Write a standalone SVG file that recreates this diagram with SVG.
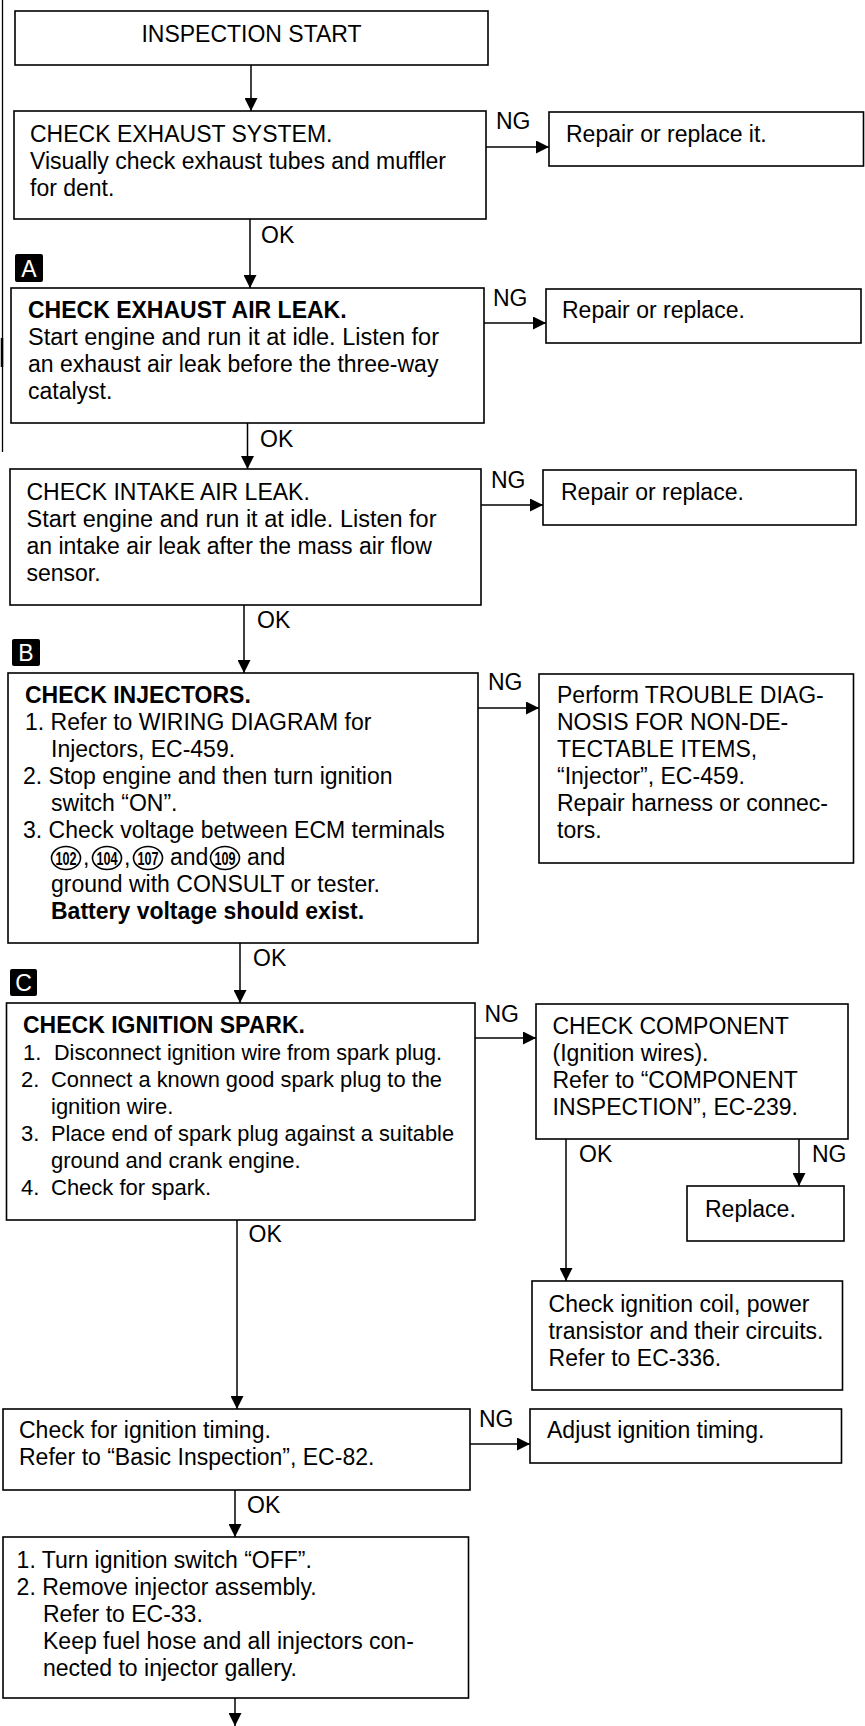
<svg xmlns="http://www.w3.org/2000/svg" width="865" height="1726" viewBox="0 0 865 1726">
<defs>
<style>
.box{fill:#fff;stroke:#000;stroke-width:1.6}
.t{font-family:"Liberation Sans",Arial,Helvetica,sans-serif;font-size:23px;fill:#000}
.s{font-size:22px}
.b{font-weight:bold}
.conn{stroke:#000;stroke-width:1.5;fill:none}
.badge{fill:#000}
.bt{font-family:"Liberation Sans",Arial,Helvetica,sans-serif;font-size:23px;fill:#fff;text-anchor:middle}
.circ{fill:none;stroke:#000;stroke-width:1.6}
.cn{font-family:"Liberation Sans",Arial,Helvetica,sans-serif;font-size:18px;font-weight:bold;fill:#000;text-anchor:middle}
</style>
<marker id="ah" markerUnits="userSpaceOnUse" markerWidth="13" markerHeight="13" viewBox="0 0 13 13" refX="13" refY="6.5" orient="auto">
<path d="M0,0 L13,6.5 L0,13 z" fill="#000"/>
</marker>
</defs>
<rect width="865" height="1726" fill="#fff"/>
<g id="scan-edge">
<line x1="2.5" y1="0" x2="2.5" y2="452" stroke="#000" stroke-width="1.3"/>
<line x1="2" y1="338" x2="2" y2="367" stroke="#000" stroke-width="2.5"/>
</g>
<g id="connectors">
<line class="conn" x1="251" y1="65" x2="251" y2="111" marker-end="url(#ah)"/>
<line class="conn" x1="486" y1="147" x2="549" y2="147" marker-end="url(#ah)"/>
<line class="conn" x1="250" y1="219" x2="250" y2="288" marker-end="url(#ah)"/>
<line class="conn" x1="484" y1="323" x2="546" y2="323" marker-end="url(#ah)"/>
<line class="conn" x1="247.5" y1="423" x2="247.5" y2="469" marker-end="url(#ah)"/>
<line class="conn" x1="481" y1="505" x2="543" y2="505" marker-end="url(#ah)"/>
<line class="conn" x1="244" y1="605" x2="244" y2="673" marker-end="url(#ah)"/>
<line class="conn" x1="478" y1="708" x2="539" y2="708" marker-end="url(#ah)"/>
<line class="conn" x1="240" y1="943" x2="240" y2="1003" marker-end="url(#ah)"/>
<line class="conn" x1="475" y1="1038" x2="536" y2="1038" marker-end="url(#ah)"/>
<line class="conn" x1="566" y1="1139" x2="566" y2="1281" marker-end="url(#ah)"/>
<line class="conn" x1="799" y1="1139" x2="799" y2="1186" marker-end="url(#ah)"/>
<line class="conn" x1="237" y1="1220" x2="237" y2="1409" marker-end="url(#ah)"/>
<line class="conn" x1="470" y1="1444" x2="530" y2="1444" marker-end="url(#ah)"/>
<line class="conn" x1="235" y1="1490" x2="235" y2="1537" marker-end="url(#ah)"/>
<line class="conn" x1="235" y1="1698" x2="235" y2="1726" marker-end="url(#ah)"/>
<text class="t" x="496" y="129">NG</text>
<text class="t" x="261" y="243">OK</text>
<text class="t" x="493" y="306">NG</text>
<text class="t" x="260" y="447">OK</text>
<text class="t" x="491" y="488">NG</text>
<text class="t" x="257" y="628">OK</text>
<text class="t" x="488" y="690">NG</text>
<text class="t" x="253" y="966">OK</text>
<text class="t" x="484.5" y="1022">NG</text>
<text class="t" x="579" y="1162">OK</text>
<text class="t" x="812" y="1162">NG</text>
<text class="t" x="248.6" y="1242">OK</text>
<text class="t" x="479" y="1427">NG</text>
<text class="t" x="247" y="1513">OK</text>
</g>
<g id="badge-a">
<rect class="badge" x="15" y="254" width="28" height="28" rx="2"/>
<text class="bt" x="29" y="277">A</text>
</g>
<g id="badge-b">
<rect class="badge" x="12" y="639" width="28" height="27" rx="2"/>
<text class="bt" x="26" y="661">B</text>
</g>
<g id="badge-c">
<rect class="badge" x="10" y="969" width="27" height="27" rx="2"/>
<text class="bt" x="23.5" y="991">C</text>
</g>
<g id="inspection-start">
<rect class="box" x="15" y="11" width="473" height="54"/>
<text class="t" x="251.5" y="42" text-anchor="middle">INSPECTION START</text>
</g>
<g id="check-exhaust-system">
<rect class="box" x="14" y="111" width="472" height="108"/>
<text class="t"><tspan x="30" y="142">CHECK EXHAUST SYSTEM.</tspan><tspan x="30" y="169">Visually check exhaust tubes and muffler</tspan><tspan x="30" y="196">for dent.</tspan></text>
</g>
<g id="repair-1">
<rect class="box" x="549" y="112" width="314.5" height="54"/>
<text class="t" x="566" y="142">Repair or replace it.</text>
</g>
<g id="check-exhaust-air-leak">
<rect class="box" x="11" y="288" width="473" height="135"/>
<text class="t b" x="28" y="318">CHECK EXHAUST AIR LEAK.</text>
<text class="t" x="28" y="345" textLength="411" lengthAdjust="spacingAndGlyphs">Start engine and run it at idle. Listen for</text>
<text class="t"><tspan x="28" y="372">an exhaust air leak before the three-way</tspan><tspan x="28" y="399">catalyst.</tspan></text>
</g>
<g id="repair-2">
<rect class="box" x="546" y="289" width="315" height="54"/>
<text class="t" x="562" y="318">Repair or replace.</text>
</g>
<g id="check-intake-air-leak">
<rect class="box" x="10" y="469" width="471" height="136"/>
<text class="t" x="26.5" y="500">CHECK INTAKE AIR LEAK.</text>
<text class="t" x="26.5" y="527" textLength="410" lengthAdjust="spacingAndGlyphs">Start engine and run it at idle. Listen for</text>
<text class="t"><tspan x="26.5" y="554">an intake air leak after the mass air flow</tspan><tspan x="26.5" y="581">sensor.</tspan></text>
</g>
<g id="repair-3">
<rect class="box" x="543" y="470" width="313" height="55"/>
<text class="t" x="561" y="500">Repair or replace.</text>
</g>
<g id="check-injectors">
<rect class="box" x="8" y="673" width="470" height="270"/>
<text class="t"><tspan x="25" y="703" font-weight="bold">CHECK INJECTORS.</tspan><tspan x="25" y="730">1. Refer to WIRING DIAGRAM for</tspan><tspan x="51" y="757">Injectors, EC-459.</tspan><tspan x="23" y="784">2. Stop engine and then turn ignition</tspan><tspan x="51" y="811">switch “ON”.</tspan><tspan x="23" y="838">3. Check voltage between ECM terminals</tspan><tspan x="51" y="892">ground with CONSULT or tester.</tspan><tspan x="51" y="919" font-weight="bold">Battery voltage should exist.</tspan></text>
<ellipse class="circ" cx="66" cy="858" rx="14.5" ry="11.5"/>
<text class="cn" x="66" y="864.5" textLength="21" lengthAdjust="spacingAndGlyphs">102</text>
<text class="t" x="83" y="865">,</text>
<ellipse class="circ" cx="107" cy="858" rx="14.5" ry="11.5"/>
<text class="cn" x="107" y="864.5" textLength="21" lengthAdjust="spacingAndGlyphs">104</text>
<text class="t" x="124" y="865">,</text>
<ellipse class="circ" cx="148" cy="858" rx="14.5" ry="11.5"/>
<text class="cn" x="148" y="864.5" textLength="21" lengthAdjust="spacingAndGlyphs">107</text>
<text class="t" x="170" y="865">and</text>
<ellipse class="circ" cx="225" cy="858" rx="14.5" ry="11.5"/>
<text class="cn" x="225" y="864.5" textLength="21" lengthAdjust="spacingAndGlyphs">109</text>
<text class="t" x="247" y="865">and</text>
</g>
<g id="trouble-diagnosis">
<rect class="box" x="539" y="674" width="314.5" height="189"/>
<text class="t"><tspan x="557" y="703">Perform TROUBLE DIAG-</tspan><tspan x="557" y="730">NOSIS FOR NON-DE-</tspan><tspan x="557" y="757">TECTABLE ITEMS,</tspan><tspan x="557" y="784">“Injector”, EC-459.</tspan><tspan x="557" y="811">Repair harness or connec-</tspan><tspan x="557" y="838">tors.</tspan></text>
</g>
<g id="check-ignition-spark">
<rect class="box" x="6.5" y="1003" width="468.5" height="217"/>
<text class="t b" x="23" y="1033">CHECK IGNITION SPARK.</text>
<text class="t s" x="23" y="1060">1.</text>
<text class="t s" x="54" y="1060" textLength="388" lengthAdjust="spacingAndGlyphs">Disconnect ignition wire from spark plug.</text>
<text class="t s" x="21" y="1087">2.</text>
<text class="t s" x="51" y="1087" textLength="391" lengthAdjust="spacingAndGlyphs">Connect a known good spark plug to the</text>
<text class="t s" x="51" y="1114">ignition wire.</text>
<text class="t s" x="21" y="1141">3.</text>
<text class="t s" x="51" y="1141" textLength="403" lengthAdjust="spacingAndGlyphs">Place end of spark plug against a suitable</text>
<text class="t s" x="51" y="1168">ground and crank engine.</text>
<text class="t s" x="21" y="1195">4.</text>
<text class="t s" x="51" y="1195">Check for spark.</text>
</g>
<g id="check-component">
<rect class="box" x="536" y="1004" width="312" height="135"/>
<text class="t"><tspan x="552.5" y="1034">CHECK COMPONENT</tspan><tspan x="552.5" y="1061">(Ignition wires).</tspan><tspan x="552.5" y="1088">Refer to “COMPONENT</tspan><tspan x="552.5" y="1115">INSPECTION”, EC-239.</tspan></text>
</g>
<g id="replace">
<rect class="box" x="687" y="1186" width="157" height="55"/>
<text class="t" x="705" y="1217">Replace.</text>
</g>
<g id="check-ignition-coil">
<rect class="box" x="532" y="1281" width="310.5" height="109"/>
<text class="t"><tspan x="548.6" y="1312">Check ignition coil, power</tspan><tspan x="548.6" y="1339">transistor and their circuits.</tspan><tspan x="548.6" y="1366">Refer to EC-336.</tspan></text>
</g>
<g id="check-ignition-timing">
<rect class="box" x="3" y="1409" width="467" height="81"/>
<text class="t"><tspan x="19" y="1438">Check for ignition timing.</tspan><tspan x="19" y="1465">Refer to “Basic Inspection”, EC-82.</tspan></text>
</g>
<g id="adjust-timing">
<rect class="box" x="530" y="1409" width="311.5" height="54"/>
<text class="t" x="547" y="1438">Adjust ignition timing.</text>
</g>
<g id="remove-injector">
<rect class="box" x="3" y="1537" width="465.5" height="161"/>
<text class="t"><tspan x="16.6" y="1568">1. Turn ignition switch “OFF”.</tspan><tspan x="16.6" y="1595">2. Remove injector assembly.</tspan><tspan x="43" y="1622">Refer to EC-33.</tspan><tspan x="43" y="1649">Keep fuel hose and all injectors con-</tspan><tspan x="43" y="1676">nected to injector gallery.</tspan></text>
</g>
</svg>
